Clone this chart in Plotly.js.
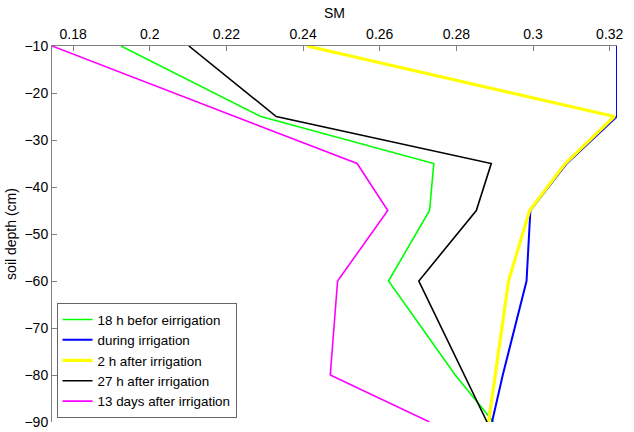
<!DOCTYPE html>
<html>
<head>
<meta charset="utf-8">
<script src="https://cdn.plot.ly/plotly-3.0.1.min.js"></script>
<style>html,body{margin:0;padding:0;background:#fff;}#chart{width:634px;height:432px;}</style>
</head>
<body>
<div id="chart"></div>
<script>
const depths = [-10, -25, -35, -45, -60, -80, -90];
const sm18hBefore = [0.1925, 0.2290, 0.2741, 0.2730, 0.2623, 0.2797, 0.2897];
const smDuring = [0.3219, 0.3219, 0.3088, 0.2993, 0.2983, 0.2921, 0.2893];
const sm2hAfter = [0.2410, 0.3212, 0.3084, 0.2991, 0.2936, 0.2902, 0.2884];
const sm27hAfter = [0.2102, 0.2330, 0.2891, 0.2852, 0.2702, 0.2822, 0.2880];
const sm13dAfter = [0.1745, 0.2221, 0.2541, 0.2621, 0.2490, 0.2471, 0.2730];
const seriesNames = ['18 h befor eirrigation', 'during irrigation', '2 h after irrigation', '27 h after irrigation', '13 days after irrigation'];
const xTicks = [0.18, 0.2, 0.22, 0.24, 0.26, 0.28, 0.3, 0.32];
const xTickText = ['0.18', '0.2', '0.22', '0.24', '0.26', '0.28', '0.3', '0.32'];
const yTicks = [-10, -20, -30, -40, -50, -60, -70, -80, -90];

const seriesVals = [sm18hBefore, smDuring, sm2hAfter, sm27hAfter, sm13dAfter];
const colors = ['#00ff00', '#0000ff', '#ffff00', '#000000', '#ff00ff'];
const widths = [1.6, 2, 3.2, 1.6, 1.6];

const traces = seriesVals.map((v, i) => ({
  x: v, y: depths, type: 'scatter', mode: 'lines', name: seriesNames[i],
  line: {color: colors[i], width: widths[i]}, cliponaxis: false
}));

const layout = {
  width: 634, height: 432,
  margin: {l: 52, r: 17, t: 46, b: 10},
  paper_bgcolor: '#fff', plot_bgcolor: '#fff',
  font: {family: 'Liberation Sans, Arial, sans-serif', size: 14, color: '#000'},
  xaxis: {
    side: 'top', range: [0.1745, 0.3219], tickvals: xTicks, ticktext: xTickText,
    ticks: 'inside', ticklen: 5, tickcolor: '#808080', showline: true, linecolor: '#808080',
    linewidth: 1, showgrid: false, zeroline: false, mirror: false,
    tickfont: {size: 14}, title: {text: 'SM', font: {size: 14}, standoff: 4}
  },
  yaxis: {
    range: [-90, -10], tickvals: yTicks,
    ticks: 'inside', ticklen: 5, tickcolor: '#808080', showline: true, linecolor: '#808080',
    linewidth: 1, showgrid: false, zeroline: false, mirror: false,
    tickfont: {size: 14}, title: {text: 'soil depth (cm)', font: {size: 14}, standoff: 4}
  },
  legend: {
    x: 0.008, y: 0.01, xanchor: 'left', yanchor: 'bottom',
    bgcolor: '#fff', bordercolor: '#666', borderwidth: 1,
    font: {size: 13.4}, tracegroupgap: 0, itemwidth: 30
  },
  showlegend: true
};

Plotly.newPlot('chart', traces, layout, {displayModeBar: false, staticPlot: true});
</script>
</body>
</html>
